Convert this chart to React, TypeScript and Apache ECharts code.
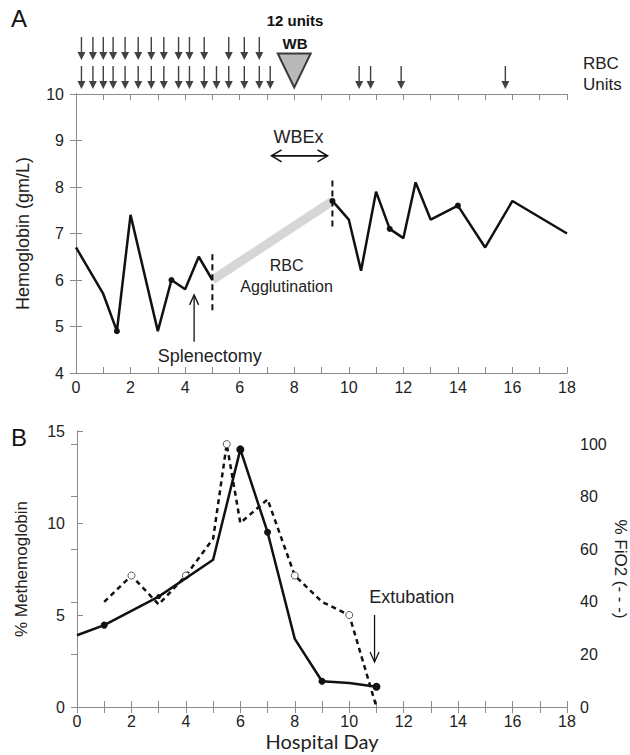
import React, { useEffect, useRef } from "react";
import * as echarts from "echarts";

// ---- Panel A: hemoglobin ----
const hgbPreDays = [0, 1, 1.5, 2, 3, 3.5, 4, 4.5, 5];
const hgbPreValues = [6.7, 5.7, 4.9, 7.4, 4.9, 6.0, 5.8, 6.5, 6.0];
const hgbPreMarked = [false, false, true, false, false, true, false, false, false];
const hgbPostDays = [9.4, 10, 10.45, 11, 11.5, 12, 12.45, 13, 14, 15, 16, 18];
const hgbPostValues = [7.7, 7.3, 6.2, 7.9, 7.1, 6.9, 8.1, 7.3, 7.6, 6.7, 7.7, 7.0];
const hgbPostMarked = [true, false, false, false, true, false, false, false, true, false, false, false];
const agglutDays = [5, 9.4];
const agglutValues = [6.0, 7.7];
const splitDays = [5, 9.4];
const splitLow = [5.35, 7.15];
const splitHigh = [6.6, 8.2];

// RBC unit arrows (hospital day of each transfusion)
const rbcTopRow = [0.2, 0.62, 1.0, 1.36, 1.8, 2.28, 2.76, 3.22, 3.76, 4.16, 4.7, 5.6, 6.17, 6.72];
const rbcBottomRow = [0.2, 0.62, 1.0, 1.36, 1.8, 2.28, 2.76, 3.22, 3.76, 4.16, 4.7, 5.15, 5.6, 6.17, 6.72, 7.12, 10.38, 10.8, 11.92, 15.74];
const wbDay = [8];

// ---- Panel B ----
const metDays = [0, 1, 3, 5, 6, 7, 8, 9, 10, 11];
const metValues = [3.9, 4.45, 6.0, 8.0, 14.0, 9.5, 3.7, 1.4, 1.3, 1.1];
const metMarkSize = [0, 7, 5, 0, 8, 7, 0, 7, 0, 8];
const fio2Days = [1, 2, 3, 4, 5, 5.5, 6, 7, 8, 9, 10, 11];
const fio2Values = [40, 50, 39, 50, 64, 100, 70, 79, 50, 40, 35, 0];
const fio2Open = [false, true, false, true, false, true, false, false, true, false, true, false];

const xTicks = { min: 0, max: 18, interval: 1 };
const hgbTicks = { min: 4, max: 10, interval: 1 };
const metTicks = { min: 0, max: 15, interval: 5 };
const fio2Ticks = { min: 0, max: 105, interval: 20 };

const FRAME = "#8a8a8a";
const INK = "#111";
const FONT = "'Liberation Sans', Arial, sans-serif";

const arrowSymbol = "path://M3.3,0 L4.7,0 L4.7,15 L8,15 L4,23 L0,15 L3.3,15 Z";

function frameAxis(extra: any) {
  return {
    type: "value",
    axisLine: { show: true, lineStyle: { color: FRAME, width: 1 } },
    axisTick: { show: true, inside: true, length: 6, lineStyle: { color: FRAME } },
    splitLine: { show: false },
    ...extra,
  };
}

export default function App() {
  const ref = useRef<HTMLDivElement>(null);
  useEffect(() => {
    if (!ref.current) return;
    const chart = echarts.init(ref.current, null, { renderer: "svg" });
    const evenLabel = (v: number) => (v % 2 === 0 ? String(v) : "");
    const labelStyle = { color: "#222", fontSize: 16, fontFamily: FONT };

    const option: any = {
      animation: false,
      textStyle: { fontFamily: FONT },
      grid: [
        { left: 76, top: 94, width: 491, height: 279, containLabel: false, outerBoundsMode: "none" },
        { left: 77, top: 431, width: 490, height: 276, containLabel: false, outerBoundsMode: "none" },
        { left: 76, top: 34, width: 491, height: 58, containLabel: false, outerBoundsMode: "none" },
      ],
      xAxis: [
        frameAxis({ gridIndex: 0, ...xTicks, axisLabel: { ...labelStyle, formatter: evenLabel, margin: 6 } }),
        frameAxis({ gridIndex: 0, position: "top", ...xTicks, axisLabel: { show: false } }),
        frameAxis({
          gridIndex: 1, ...xTicks,
          axisLabel: { ...labelStyle, formatter: evenLabel, margin: 6 },
          name: "Hospital Day", nameLocation: "middle", nameGap: 24,
          nameTextStyle: { fontFamily: "Lato, 'Open Sans', sans-serif", fontSize: 20, color: "#222" },
        }),
        frameAxis({ gridIndex: 1, position: "top", ...xTicks, axisLabel: { show: false } }),
        { type: "value", gridIndex: 2, ...xTicks, show: false },
      ],
      yAxis: [
        frameAxis({
          gridIndex: 0, ...hgbTicks, axisLabel: { ...labelStyle, margin: 12 },
          name: "Hemoglobin (gm/L)", nameLocation: "middle", nameGap: 44,
          nameTextStyle: { fontSize: 18, color: "#222" },
        }),
        frameAxis({ gridIndex: 0, position: "right", ...hgbTicks, axisLabel: { show: false } }),
        frameAxis({
          gridIndex: 1, ...metTicks, axisLabel: { ...labelStyle, margin: 12 },
          name: "% Methemoglobin", nameLocation: "middle", nameGap: 47,
          nameTextStyle: { fontSize: 17, color: "#222" },
        }),
        frameAxis({
          gridIndex: 1, position: "right", ...fio2Ticks,
          axisLabel: { ...labelStyle, margin: 13, showMaxLabel: false },
        }),
        { type: "value", gridIndex: 2, min: 0, max: 2, show: false },
      ],
      series: [
        {
          type: "line", xAxisIndex: 0, yAxisIndex: 0, z: 1,
          data: agglutDays.map((d, i) => [d, agglutValues[i]]),
          symbol: "none", lineStyle: { color: "#d6d6d6", width: 9 },
        },
        {
          type: "line", xAxisIndex: 0, yAxisIndex: 0, z: 3, showAllSymbol: true,
          data: hgbPreDays.map((d, i) => ({ value: [d, hgbPreValues[i]], symbol: hgbPreMarked[i] ? "circle" : "none" })),
          symbolSize: 6, lineStyle: { color: INK, width: 2.5 }, itemStyle: { color: INK },
        },
        {
          type: "line", xAxisIndex: 0, yAxisIndex: 0, z: 3, showAllSymbol: true,
          data: hgbPostDays.map((d, i) => ({ value: [d, hgbPostValues[i]], symbol: hgbPostMarked[i] ? "circle" : "none" })),
          symbolSize: 6, lineStyle: { color: INK, width: 2.5 }, itemStyle: { color: INK },
        },
        ...splitDays.map((d, i) => ({
          type: "line", xAxisIndex: 0, yAxisIndex: 0, z: 2,
          data: [[d, splitLow[i]], [d, splitHigh[i]]],
          symbol: "none", lineStyle: { color: INK, width: 2, type: [6, 4] },
        })),
        {
          type: "line", xAxisIndex: 2, yAxisIndex: 3, z: 3, showAllSymbol: true,
          data: fio2Days.map((d, i) => ({ value: [d, fio2Values[i]], symbol: fio2Open[i] ? "circle" : "none" })),
          symbolSize: 7, lineStyle: { color: INK, width: 2.5, type: [5, 4] },
          itemStyle: { color: "#fff", borderColor: "#555", borderWidth: 1 },
        },
        {
          type: "line", xAxisIndex: 2, yAxisIndex: 2, z: 4, showAllSymbol: true,
          data: metDays.map((d, i) => ({
            value: [d, metValues[i]],
            symbol: metMarkSize[i] > 0 ? "circle" : "none",
            symbolSize: metMarkSize[i] || 1,
          })),
          lineStyle: { color: INK, width: 2.5 }, itemStyle: { color: INK },
        },
        {
          type: "scatter", xAxisIndex: 4, yAxisIndex: 4,
          data: rbcTopRow.map((d) => [d, 1.5]),
          symbol: arrowSymbol, symbolSize: [8, 23], itemStyle: { color: INK },
        },
        {
          type: "scatter", xAxisIndex: 4, yAxisIndex: 4,
          data: rbcBottomRow.map((d) => [d, 0.5]),
          symbol: arrowSymbol, symbolSize: [8, 23], itemStyle: { color: INK },
        },
        {
          type: "scatter", xAxisIndex: 4, yAxisIndex: 4,
          data: wbDay.map((d) => [d, 0.74]),
          symbol: "triangle", symbolRotate: 180, symbolSize: [33, 34],
          itemStyle: { color: "#a8a8a8", borderColor: INK, borderWidth: 2 },
        },
      ],
    };
    chart.setOption(option);

    const pA = (x: number, y: number) => chart.convertToPixel({ xAxisIndex: 0, yAxisIndex: 0 }, [x, y]) as number[];
    const pB = (x: number, y: number) => chart.convertToPixel({ xAxisIndex: 2, yAxisIndex: 2 }, [x, y]) as number[];
    const thin = { stroke: INK, lineWidth: 1.3, fill: "none" };
    const txt = (x: number, y: number, text: string, size: number, extra: any = {}) => ({
      type: "text", x, y,
      style: { text, fontSize: size, fontFamily: FONT, fill: "#222", align: "center", verticalAlign: "middle", ...extra },
    });

    const splenTop = pA(4.33, 5.68);
    const splenBot = pA(4.33, 4.67);
    const wbL = pA(7.17, 8.67);
    const wbR = pA(9.22, 8.67);
    const extTop = pB(10.93, 5.0);
    const extBot = pB(10.93, 2.45);
    const splenText = pA(4.9, 4.37);
    const wbexText = pA(8.16, 9.08);
    const rbcA = pA(7.72, 6.31);
    const rbcB = pA(7.72, 5.86);
    const extText = pB(12.3, 5.96);

    const graphic: any[] = [
      txt(19, 18, "A", 24, { fill: "#111" }),
      txt(19, 437, "B", 24, { fill: "#111" }),
      txt(295, 20, "12 units", 15, { fontWeight: "bold", fill: "#111" }),
      txt(295, 43, "WB", 15, { fontWeight: "bold", fill: "#111" }),
      txt(583, 63, "RBC", 17, { align: "left" }),
      txt(583, 84, "Units", 17, { align: "left" }),
      { ...txt(0, 0, "% FiO2 (- - -)", 17), x: 620, y: 569, rotation: -Math.PI / 2 },
      // Splenectomy
      { type: "line", shape: { x1: splenTop[0], y1: splenTop[1], x2: splenBot[0], y2: splenBot[1] }, style: thin },
      { type: "polyline", shape: { points: [[splenTop[0] - 4.5, splenTop[1] + 10], [splenTop[0], splenTop[1]], [splenTop[0] + 4.5, splenTop[1] + 10]] }, style: thin },
      txt(splenText[0], splenText[1], "Splenectomy", 18),
      // WBEx
      { type: "line", shape: { x1: wbL[0], y1: wbL[1], x2: wbR[0], y2: wbR[1] }, style: { ...thin, lineWidth: 1.6 } },
      { type: "polyline", shape: { points: [[wbL[0] + 10, wbL[1] - 6], [wbL[0], wbL[1]], [wbL[0] + 10, wbL[1] + 6]] }, style: { ...thin, lineWidth: 1.6 } },
      { type: "polyline", shape: { points: [[wbR[0] - 10, wbR[1] - 6], [wbR[0], wbR[1]], [wbR[0] - 10, wbR[1] + 6]] }, style: { ...thin, lineWidth: 1.6 } },
      txt(wbexText[0], wbexText[1], "WBEx", 18),
      txt(rbcA[0], rbcA[1], "RBC", 16),
      txt(rbcB[0], rbcB[1], "Agglutination", 16),
      // Extubation
      { type: "line", shape: { x1: extTop[0], y1: extTop[1], x2: extBot[0], y2: extBot[1] }, style: thin },
      { type: "polyline", shape: { points: [[extBot[0] - 4.5, extBot[1] - 10], [extBot[0], extBot[1]], [extBot[0] + 4.5, extBot[1] - 10]] }, style: thin },
      txt(extText[0], extText[1], "Extubation", 18),
    ];
    chart.setOption({ graphic });

    return () => chart.dispose();
  }, []);

  return <div ref={ref} style={{ position: "fixed", left: 0, top: 0, width: 630, height: 755, background: "#fff" }} />;
}
